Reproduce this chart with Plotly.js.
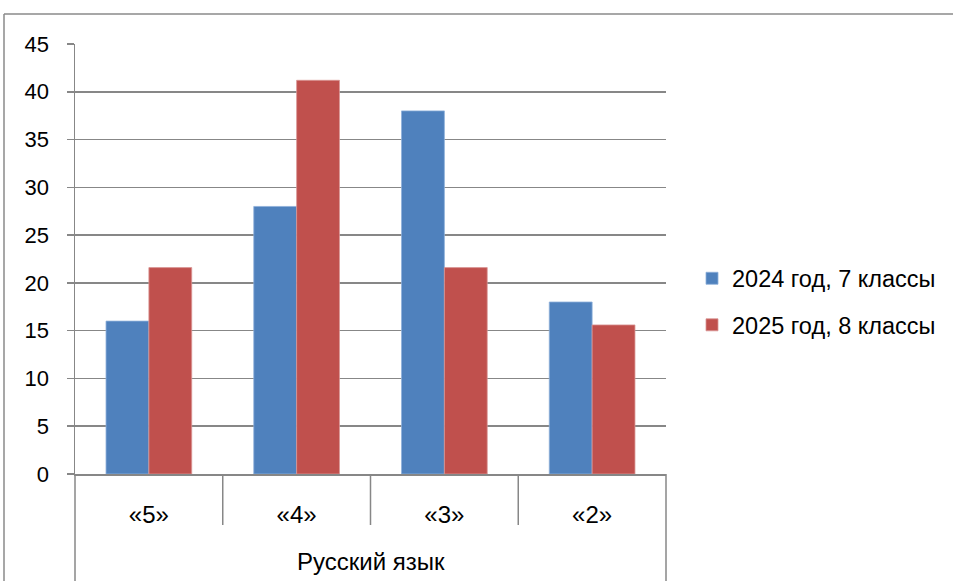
<!DOCTYPE html>
<html>
<head>
<meta charset="utf-8">
<script src="https://cdn.plot.ly/plotly-3.0.1.min.js"></script>
<style>html,body{margin:0;padding:0;background:#fff;}#chart{width:953px;height:581px;}</style>
</head>
<body>
<div id="chart"></div>
<script>
const categories = ["«5»", "«4»", "«3»", "«2»"];
const groupLabel = "Русский язык";
const seriesNames = ["2024 год, 7 классы", "2025 год, 8 классы"];
const values2024 = [16, 28, 38, 18];
const values2025 = [21.6, 41.2, 21.6, 15.6];
const yTicks = [0, 5, 10, 15, 20, 25, 30, 35, 40, 45];

const gray = "#878787";
const fam = "Liberation Sans, Arial, sans-serif";

const traces = [
  {type: "bar", x: categories, y: values2024, name: seriesNames[0], legendgroup: "a",
   marker: {color: "#4F81BD", line: {width: 0.8, color: "#8DB0DA"}}},
  {type: "bar", x: categories, y: values2025, name: seriesNames[1], legendgroup: "b",
   marker: {color: "#C0504D", line: {width: 0.8, color: "#D99694"}}}
];

const L = 75, R = 666, T = 44, B = 474;
const pw = R - L, ph = B - T;
const px = v => (v - L) / pw;
const py = v => (B - v) / ph;

const lineStyle = {color: gray, width: 1.5};
const shapes = [
  {type: "line", xref: "paper", yref: "paper", x0: px(4), x1: px(4), y0: py(14), y1: py(600), line: {color: "#8a8a8a", width: 1.5}},
  {type: "line", xref: "paper", yref: "paper", x0: px(4), x1: px(960), y0: py(14), y1: py(14), line: {color: "#8a8a8a", width: 1.5}},
  {type: "line", xref: "paper", yref: "paper", x0: 0, x1: 0, y0: 0, y1: py(600), line: lineStyle},
  {type: "line", xref: "paper", yref: "paper", x0: 1, x1: 1, y0: 0, y1: py(600), line: lineStyle},
  {type: "line", xref: "paper", yref: "paper", x0: 0.25, x1: 0.25, y0: 0, y1: py(525), line: lineStyle},
  {type: "line", xref: "paper", yref: "paper", x0: 0.5, x1: 0.5, y0: 0, y1: py(525), line: lineStyle},
  {type: "line", xref: "paper", yref: "paper", x0: 0.75, x1: 0.75, y0: 0, y1: py(525), line: lineStyle}
];

const layout = {
  width: 953, height: 581,
  margin: {l: L, r: 953 - R, t: T, b: 581 - B, pad: 0, autoexpand: false},
  paper_bgcolor: "#fff", plot_bgcolor: "#fff",
  font: {family: fam, size: 20, color: "#000"},
  barmode: "group",
  bargap: 0.42,
  bargroupgap: 0,
  showlegend: true,
  legend: {x: px(692), xanchor: "left", y: py(302), yanchor: "middle",
           traceorder: "grouped", tracegroupgap: 13, font: {family: fam, size: 23.5, color: "#000"},
           bgcolor: "rgba(0,0,0,0)", borderwidth: 0},
  xaxis: {type: "category", categoryorder: "array", categoryarray: categories,
          range: [-0.5, 3.5], showline: true, linecolor: gray, linewidth: 1.5,
          ticks: "outside", ticklen: 19, tickcolor: "rgba(0,0,0,0)",
          tickfont: {family: fam, size: 24, color: "#000"},
          showgrid: false, zeroline: false, fixedrange: true, automargin: false},
  yaxis: {range: [0, 45], tickvals: yTicks, ticktext: yTicks.map(String),
          showline: true, linecolor: gray, linewidth: 1.5,
          ticks: "outside", ticklen: 7, tickcolor: gray, tickwidth: 1.5,
          ticklabelstandoff: 13,
          tickfont: {family: fam, size: 22, color: "#000"},
          showgrid: true, gridcolor: gray, gridwidth: 1.5, zeroline: false, fixedrange: true, automargin: false},
  shapes: shapes,
  annotations: [
    {text: groupLabel, xref: "paper", yref: "paper", x: 0.5, y: py(561),
     xanchor: "center", yanchor: "middle", showarrow: false, font: {family: fam, size: 24, color: "#000"}}
  ]
};

Plotly.newPlot("chart", traces, layout, {displayModeBar: false, staticPlot: true});
</script>
</body>
</html>
